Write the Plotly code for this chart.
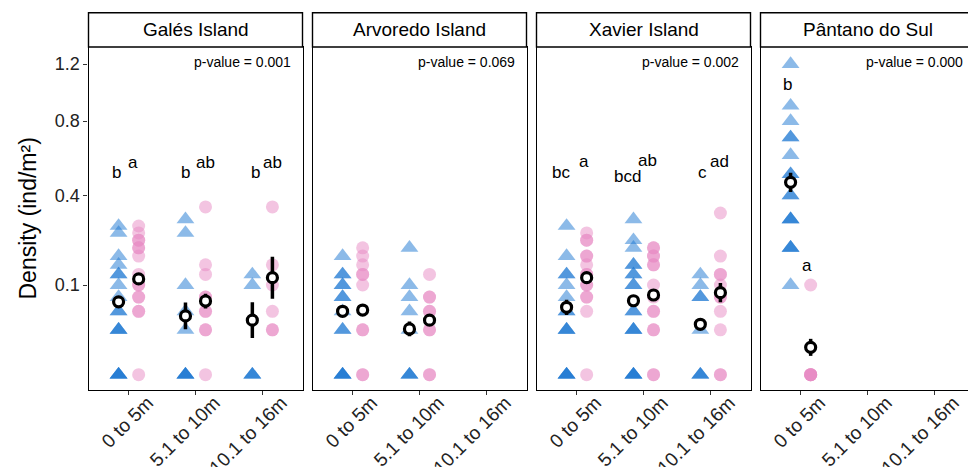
import numpy as np
import plotly.graph_objects as go

# ---------------- data (density, ind/m2) ----------------
sites = ["Galés Island", "Arvoredo Island", "Xavier Island", "Pântano do Sul"]
depths = ["0 to 5m", "5.1 to 10m", "10.1 to 16m"]
p_values = ["p-value = 0.001", "p-value = 0.069", "p-value = 0.002", "p-value = 0.000"]

# group 1 (blue triangles), per depth class
galles_tri = [
    [0.275, 0.25, 0.175, 0.15, 0.125, 0.125, 0.1, 0.075, 0.05, 0.05, 0.025, 0.025, 0.025, 0, 0, 0, 0],
    [0.3, 0.25, 0.1, 0.05, 0.025, 0, 0, 0, 0],
    [0.125, 0.1, 0, 0, 0],
]
arvoredo_tri = [
    [0.175, 0.125, 0.125, 0.1, 0.1, 0.075, 0.075, 0.05, 0.025, 0.025, 0, 0, 0, 0],
    [0.2, 0.1, 0.075, 0.05, 0.025, 0, 0, 0],
    [],
]
xavier_tri = [
    [0.275, 0.175, 0.125, 0.125, 0.1, 0.075, 0.05, 0.05, 0.025, 0.025, 0.025, 0, 0, 0, 0],
    [0.3, 0.225, 0.2, 0.15, 0.15, 0.125, 0.125, 0.1, 0.1, 0.05, 0.05, 0.025, 0.025, 0.025, 0, 0, 0, 0],
    [0.125, 0.1, 0.075, 0.075, 0.025, 0, 0, 0],
]
pantano_tri = [
    [1.2, 0.9, 0.8, 0.7, 0.7, 0.6, 0.5, 0.5, 0.4, 0.4, 0.3, 0.3, 0.3, 0.2, 0.2, 0.2, 0.1],
    [],
    [],
]

# group 2 (pink circles), per depth class
galles_cir = [
    [0.275, 0.25, 0.225, 0.225, 0.2, 0.2, 0.175, 0.125, 0.1, 0.1, 0.075, 0.075, 0.05, 0.05, 0],
    [0.35, 0.15, 0.125, 0.075, 0.075, 0.05, 0.05, 0.025, 0.025, 0],
    [0.35, 0.15, 0.1, 0.05, 0.025, 0.025],
]
arvoredo_cir = [
    [0.2, 0.175, 0.15, 0.125, 0.125, 0.1, 0.025, 0.025, 0, 0],
    [0.125, 0.075, 0.075, 0.05, 0.05, 0.025, 0.025, 0, 0],
    [],
]
xavier_cir = [
    [0.25, 0.225, 0.225, 0.175, 0.175, 0.15, 0.125, 0.125, 0.1, 0.1, 0.075, 0.075, 0.05, 0],
    [0.2, 0.2, 0.175, 0.175, 0.15, 0.15, 0.1, 0.075, 0.05, 0.05, 0.025, 0.025, 0, 0],
    [0.325, 0.175, 0.125, 0.125, 0.1, 0.075, 0.075, 0.05, 0.025, 0, 0],
]
pantano_cir = [
    [0.1, 0, 0, 0, 0, 0],
    [],
    [],
]

# means (density) and standard errors (on the sqrt axis scale)
galles_tri_mean = [0.066, 0.043, 0.037]
galles_tri_se = [0.015, 0.047, 0.063]
galles_cir_mean = [0.114, 0.0675, 0.117]
galles_cir_se = [0.012, 0.026, 0.074]
arvoredo_tri_mean = [0.05, 0.026, None]
arvoredo_tri_se = [0.012, 0.026, None]
arvoredo_cir_mean = [0.052, 0.037, None]
arvoredo_cir_se = [0.012, 0.012, None]
xavier_tri_mean = [0.0565, 0.068, 0.0316]
xavier_tri_se = [0.027, 0.015, 0.02]
xavier_cir_mean = [0.117, 0.079, 0.0836]
xavier_cir_se = [0.012, 0.015, 0.034]
pantano_tri_mean = [0.46, None, None]
pantano_tri_se = [0.034, None, None]
pantano_cir_mean = [0.0093, None, None]
pantano_cir_se = [0.03, None, None]

# significance letters
galles_letters_tri = ["b", "b", "b"]
galles_letters_cir = ["a", "ab", "ab"]
arvoredo_letters_tri = ["", "", ""]
arvoredo_letters_cir = ["", "", ""]
xavier_letters_tri = ["bc", "bcd", "c"]
xavier_letters_cir = ["a", "ab", "ad"]
pantano_letters_tri = ["b", "", ""]
pantano_letters_cir = ["a", "", ""]

y_tick_vals = [0.1, 0.4, 0.8, 1.2]
y_tick_text = ["0.1", "0.4", "0.8", "1.2"]

# ---------------- assembly ----------------
tri_all = [galles_tri, arvoredo_tri, xavier_tri, pantano_tri]
cir_all = [galles_cir, arvoredo_cir, xavier_cir, pantano_cir]
tri_mean = [galles_tri_mean, arvoredo_tri_mean, xavier_tri_mean, pantano_tri_mean]
tri_se = [galles_tri_se, arvoredo_tri_se, xavier_tri_se, pantano_tri_se]
cir_mean = [galles_cir_mean, arvoredo_cir_mean, xavier_cir_mean, pantano_cir_mean]
cir_se = [galles_cir_se, arvoredo_cir_se, xavier_cir_se, pantano_cir_se]
let_tri = [galles_letters_tri, arvoredo_letters_tri, xavier_letters_tri, pantano_letters_tri]
let_cir = [galles_letters_cir, arvoredo_letters_cir, xavier_letters_cir, pantano_letters_cir]

# layout / style (page body has an 8px margin -> compensate)
OFF = 8.0
W, H = 976 - OFF, 467 - OFF
FONT = "Liberation Sans, Arial, Helvetica, sans-serif"
panels_px = [(88.5, 302.5), (312.5, 526.5), (536.5, 750.5), (760.5, 974.5)]
TOP, BOT, STRIP_TOP = 47.0, 390.0, 12.7
BLUE = "rgba(25,118,210,0.5)"
PINK = "rgba(231,138,195,0.5)"
DODGE = 0.15
# letter placement (x offset from category, y in px)
let_tri_pos = [[(-0.18, 172), (-0.157, 172), (-0.096, 172)],
               [(0, 0)] * 3,
               [(-0.233, 172), (-0.24, 176), (-0.115, 172.5)],
               [(-0.19, 84), (0, 0), (0, 0)]]
let_cir_pos = [[(0.06, 162), (0.15, 162), (0.148, 162)],
               [(0, 0)] * 3,
               [(0.106, 161.7), (0.06, 160), (0.143, 161.7)],
               [(0.09, 265), (0, 0), (0, 0)]]

Y0_PX, K_PX = 374.7, 283.6  # px of zero, px per sqrt unit


def px_to_sqrt(p):
    return (Y0_PX - p) / K_PX


def pxx(p):
    return (p - OFF) / W


def pxy(p):
    return 1 - (p - OFF) / H


yr = [px_to_sqrt(BOT), px_to_sqrt(TOP)]

fig = go.Figure()
layout = dict(
    width=W, height=H, autosize=False,
    margin=dict(l=0, r=0, t=0, b=0, pad=0),
    paper_bgcolor="white", plot_bgcolor="white",
    font=dict(family=FONT, color="black"),
    showlegend=False,
)
shapes, annotations = [], []

for k in range(4):
    sfx = "" if k == 0 else str(k + 1)
    xa, ya = "x" + sfx, "y" + sfx
    l, r = panels_px[k]

    # raw points
    for vals_all, off, sym, col, size in [(tri_all[k], -DODGE, "triangle-up", BLUE, 15.5),
                                          (cir_all[k], DODGE, "circle", PINK, 13)]:
        xs, ys = [], []
        for i, vals in enumerate(vals_all):
            xs += [i + 1 + off] * len(vals)
            ys += list(np.sqrt(np.array(vals, dtype=float)))
        if xs:
            fig.add_trace(go.Scatter(x=xs, y=ys, mode="markers", xaxis=xa, yaxis=ya,
                                     marker=dict(symbol=sym, size=size, color=col, line=dict(width=0)),
                                     hoverinfo="skip"))
    # means +- se
    for means, ses, off in [(tri_mean[k], tri_se[k], -DODGE), (cir_mean[k], cir_se[k], DODGE)]:
        xs, ys, es = [], [], []
        for i, (m, s) in enumerate(zip(means, ses)):
            if m is None:
                continue
            xs.append(i + 1 + off)
            ys.append(np.sqrt(m))
            es.append(s)
        if xs:
            fig.add_trace(go.Scatter(x=xs, y=ys, mode="markers", xaxis=xa, yaxis=ya,
                                     marker=dict(symbol="circle", size=10, color="white",
                                                 line=dict(width=3.2, color="black")),
                                     error_y=dict(type="data", array=es, color="black",
                                                  thickness=3.5, width=0),
                                     hoverinfo="skip"))

    layout["xaxis" + sfx] = dict(
        domain=[pxx(l), pxx(r)], range=[0.4, 3.6], anchor=ya,
        tickmode="array", tickvals=[1, 2, 3], ticktext=depths, tickangle=-45,
        ticks="outside", ticklen=4, tickwidth=1.2, tickcolor="#333",
        ticklabelshift=19, ticklabelstandoff=-11,
        tickfont=dict(size=19, color="#222", family=FONT),
        showline=True, mirror=True, linecolor="black", linewidth=1.4,
        showgrid=False, zeroline=False, fixedrange=True, automargin=False,
    )
    layout["yaxis" + sfx] = dict(
        domain=[pxy(BOT), pxy(TOP)], range=yr, anchor=xa,
        tickmode="array", tickvals=list(np.sqrt(y_tick_vals)), ticktext=y_tick_text,
        ticks="outside" if k == 0 else "", ticklen=4, tickwidth=1.2, tickcolor="#333",
        showticklabels=(k == 0), tickfont=dict(size=18, color="#222", family=FONT),
        showline=True, mirror=True, linecolor="black", linewidth=1.4,
        showgrid=False, zeroline=False, fixedrange=True, automargin=False,
    )

    # strip
    shapes.append(dict(type="rect", xref="paper", yref="paper",
                       x0=pxx(l), x1=pxx(r), y0=pxy(TOP), y1=pxy(STRIP_TOP),
                       fillcolor="white", line=dict(color="black", width=1.4)))
    annotations.append(dict(text=sites[k], xref="paper", yref="paper",
                            x=pxx((l + r) / 2), y=pxy((STRIP_TOP + TOP) / 2),
                            xanchor="center", yanchor="middle", showarrow=False,
                            font=dict(size=19, color="black", family=FONT)))
    # p-value
    annotations.append(dict(text=p_values[k], xref=xa + " domain", yref=ya + " domain",
                            x=1 - 10 / (r - l), y=(BOT - 61.7) / (BOT - TOP),
                            xanchor="right", yanchor="middle", showarrow=False,
                            font=dict(size=14, color="black", family=FONT)))
    # letters
    for lets, poss in [(let_tri[k], let_tri_pos[k]), (let_cir[k], let_cir_pos[k])]:
        for i, (t, (dx, ypx)) in enumerate(zip(lets, poss)):
            if not t:
                continue
            annotations.append(dict(text=t, xref=xa, yref=ya, x=i + 1 + dx, y=px_to_sqrt(ypx),
                                    xanchor="center", yanchor="middle", showarrow=False,
                                    font=dict(size=17, color="black", family=FONT)))

annotations.append(dict(text="Density (ind/m²)", xref="paper", yref="paper",
                        x=pxx(27), y=pxy((TOP + BOT) / 2), textangle=-90,
                        xanchor="center", yanchor="middle", showarrow=False,
                        font=dict(size=23, color="black", family=FONT)))

layout["shapes"] = shapes
layout["annotations"] = annotations
fig.update_layout(**layout)
fig.write_html("out.html")
